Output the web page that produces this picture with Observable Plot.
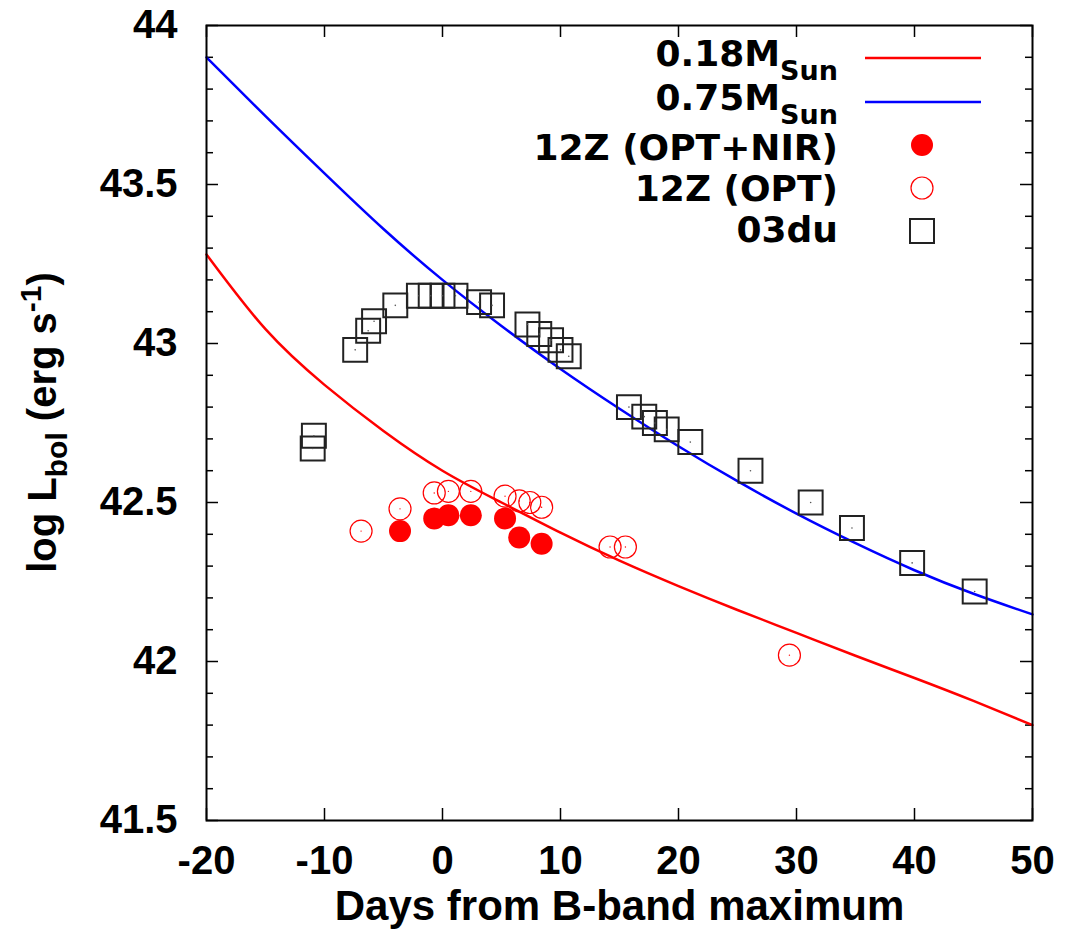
<!DOCTYPE html>
<html>
<head>
<meta charset="utf-8">
<script src="https://cdn.jsdelivr.net/npm/d3@7"></script>
<script src="https://cdn.jsdelivr.net/npm/@observablehq/plot@0.6"></script>
<style>
  body { margin: 0; background: #fff; }
  #chart svg { display: block; }
</style>
</head>
<body>
<div id="chart"></div>
<script>
// Model light curves: log bolometric luminosity vs days from B-band maximum
const modelDays   = [-20, -15, -10, -5, 0, 5, 10, 15, 20, 25, 30, 35, 40, 45, 50];
const model018Lum = [43.28, 43.045, 42.87, 42.725, 42.60, 42.50, 42.405, 42.317, 42.237, 42.162, 42.09, 42.018, 41.948, 41.876, 41.80];
const model075Lum = [43.90, 43.715, 43.535, 43.36, 43.20, 43.055, 42.92, 42.795, 42.677, 42.567, 42.465, 42.372, 42.287, 42.213, 42.148];

// SN 2012Z, optical + near-infrared
const z12NirDays = [-3.6, -0.7, 0.5, 2.4, 5.3, 6.5, 8.4];
const z12NirLum  = [42.41, 42.45, 42.46, 42.46, 42.45, 42.39, 42.37];

// SN 2012Z, optical only
const z12OptDays = [-6.9, -3.6, -0.7, 0.5, 2.4, 5.3, 6.5, 7.4, 8.4, 14.2, 15.5, 29.4];
const z12OptLum  = [42.41, 42.48, 42.53, 42.535, 42.535, 42.52, 42.505, 42.50, 42.485, 42.36, 42.36, 42.02];

// SN 2003du
const du03Days = [-11.0, -10.9, -7.4, -6.3, -5.8, -4.0, -2.0, -1.0, 0.0, 1.1, 3.1, 4.2, 7.2, 8.2, 9.2, 10.0, 10.7,
                  15.8, 17.1, 18.0, 19.0, 21.0, 26.1, 31.2, 34.7, 39.8, 45.1];
const du03Lum  = [42.67, 42.71, 42.98, 43.04, 43.07, 43.12, 43.15, 43.15, 43.15, 43.15, 43.13, 43.12, 43.06, 43.03, 43.01, 42.98, 42.96,
                  42.80, 42.77, 42.75, 42.73, 42.69, 42.60, 42.50, 42.42, 42.31, 42.22];

// Axis ticks
const xTicks = [-20, -10, 0, 10, 20, 30, 40, 50];
const yMajorTicks = [41.5, 42, 42.5, 43, 43.5, 44];
const yMinorTicks = [41.6, 41.7, 41.8, 41.9, 42.1, 42.2, 42.3, 42.4, 42.6, 42.7, 42.8, 42.9,
                     43.1, 43.2, 43.3, 43.4, 43.6, 43.7, 43.8, 43.9];

const zip = (xs, ys) => xs.map((x, i) => ({x, y: ys[i]}));
const m018 = zip(modelDays, model018Lum);
const m075 = zip(modelDays, model075Lum);
const nir = zip(z12NirDays, z12NirLum);
const opt = zip(z12OptDays, z12OptLum);
const du = zip(du03Days, du03Lum);

const W = 1066, H = 930;
const mL = 206, mR = 34, mT = 25, mB = 110;
const iw = W - mL - mR, ih = H - mT - mB;
const majorLen = 12, minorLen = 7;

const chart = Plot.plot({
  width: W,
  height: H,
  marginLeft: mL,
  marginRight: mR,
  marginTop: mT,
  marginBottom: mB,
  style: {
    fontFamily: "'Liberation Sans', Arial, sans-serif",
    fontSize: "40px",
    fontWeight: "bold",
    background: "#fff",
    color: "#000"
  },
  x: {domain: [-20, 50]},
  y: {domain: [41.5, 44]},
  marks: [
    // inward ticks on all four sides
    Plot.tickX(xTicks, {x: d => d, insetTop: ih - majorLen, stroke: "#000", strokeWidth: 1.5}),
    Plot.tickX(xTicks, {x: d => d, insetBottom: ih - majorLen, stroke: "#000", strokeWidth: 1.5}),
    Plot.tickY(yMajorTicks, {y: d => d, insetRight: iw - majorLen, stroke: "#000", strokeWidth: 1.5}),
    Plot.tickY(yMajorTicks, {y: d => d, insetLeft: iw - majorLen, stroke: "#000", strokeWidth: 1.5}),
    Plot.tickY(yMinorTicks, {y: d => d, insetRight: iw - minorLen, stroke: "#000", strokeWidth: 1.5}),
    Plot.tickY(yMinorTicks, {y: d => d, insetLeft: iw - minorLen, stroke: "#000", strokeWidth: 1.5}),
    Plot.axisX({ticks: xTicks, tickSize: 0, tickPadding: 25, tickFormat: d => String(d), label: null}),
    Plot.axisY({ticks: yMajorTicks, tickSize: 0, tickPadding: 29, tickFormat: d => String(d), label: null}),
    Plot.text(["Days from B-band maximum"], {frameAnchor: "bottom", dy: 99, lineAnchor: "bottom", fontSize: 42}),
    // model curves
    Plot.line(m018, {x: "x", y: "y", stroke: "#ff0000", strokeWidth: 2.5, curve: "natural"}),
    Plot.line(m075, {x: "x", y: "y", stroke: "#0000ff", strokeWidth: 2.5, curve: "natural"}),
    // observations
    Plot.dot(du, {x: "x", y: "y", symbol: "square", r: 13.5, stroke: "#222", strokeWidth: 2, fill: "none"}),
    Plot.dot(du, {x: "x", y: "y", r: 0.8, fill: "#555"}),
    Plot.dot(opt, {x: "x", y: "y", r: 11, stroke: "#ff0000", strokeWidth: 1.2, fill: "none"}),
    Plot.dot(opt, {x: "x", y: "y", r: 0.7, fill: "#ff0000"}),
    Plot.dot(nir, {x: "x", y: "y", r: 11, fill: "#ff0000"}),
    Plot.frame({stroke: "#000", strokeWidth: 2})
  ]
});

document.getElementById("chart").appendChild(chart);

const svg = d3.select(chart);

// y-axis title with subscript and superscript
const yTitle = svg.append("text")
  .attr("transform", `translate(56,${mT + ih / 2}) rotate(-90)`)
  .attr("text-anchor", "middle")
  .attr("font-family", "'Liberation Sans', Arial, sans-serif")
  .attr("font-weight", "bold")
  .attr("font-size", 40)
  .attr("fill", "#000");
yTitle.append("tspan").text("log L");
yTitle.append("tspan").attr("font-size", 30).attr("dy", 11).text("bol");
yTitle.append("tspan").attr("dy", -11).text(" (erg s");
yTitle.append("tspan").attr("font-size", 30).attr("dy", -15).text("-1");
yTitle.append("tspan").attr("dy", 15).text(")");

// legend
const legend = svg.append("g")
  .attr("font-family", "'DejaVu Sans', sans-serif")
  .attr("font-weight", "bold")
  .attr("font-size", 36)
  .attr("fill", "#000");

const textRight = 838;
const sampleX0 = 865, sampleX1 = 981, markX = 922;

function massLabel(y, mass) {
  const t = legend.append("text").attr("x", textRight).attr("y", y).attr("text-anchor", "end");
  t.append("tspan").text(mass + "M");
  t.append("tspan").attr("font-size", 27).attr("dy", 14).text("Sun");
}
massLabel(66, "0.18");
legend.append("line").attr("x1", sampleX0).attr("x2", sampleX1).attr("y1", 58).attr("y2", 58)
  .attr("stroke", "#ff0000").attr("stroke-width", 2.5);
massLabel(110, "0.75");
legend.append("line").attr("x1", sampleX0).attr("x2", sampleX1).attr("y1", 102).attr("y2", 102)
  .attr("stroke", "#0000ff").attr("stroke-width", 2.5);

legend.append("text").attr("x", textRight).attr("y", 160).attr("text-anchor", "end").text("12Z (OPT+NIR)");
legend.append("circle").attr("cx", markX).attr("cy", 145).attr("r", 11).attr("fill", "#ff0000");

legend.append("text").attr("x", textRight).attr("y", 201).attr("text-anchor", "end").text("12Z (OPT)");
legend.append("circle").attr("cx", markX).attr("cy", 188).attr("r", 11).attr("fill", "none")
  .attr("stroke", "#ff0000").attr("stroke-width", 1.2);

legend.append("text").attr("x", textRight).attr("y", 242).attr("text-anchor", "end").text("03du");
legend.append("rect").attr("x", markX - 12).attr("y", 231 - 12).attr("width", 24).attr("height", 24)
  .attr("fill", "none").attr("stroke", "#222").attr("stroke-width", 2);
</script>
</body>
</html>
